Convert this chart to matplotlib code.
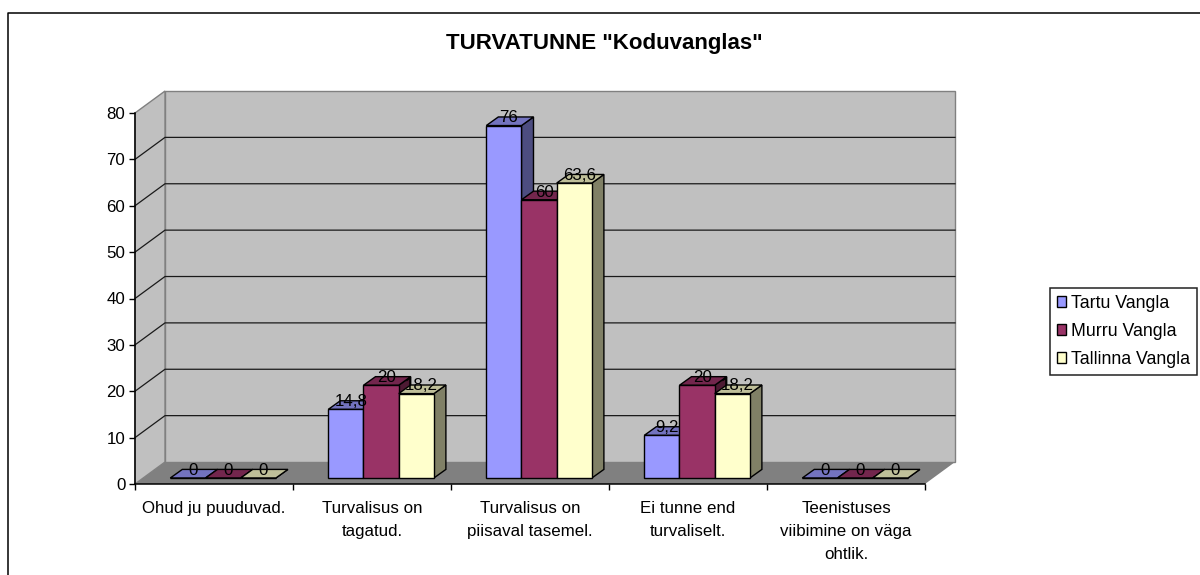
import matplotlib
matplotlib.use('Agg')
import matplotlib.pyplot as plt
from matplotlib.lines import Line2D
from matplotlib.patches import Patch

plt.rcParams['font.family'] = ['Liberation Sans', 'DejaVu Sans']

categories = ['Ohud ju puuduvad.', 'Turvalisus on\ntagatud.', 'Turvalisus on\npiisaval tasemel.',
              'Ei tunne end\nturvaliselt.', 'Teenistuses\nviibimine on väga\nohtlik.']
series_names = ['Tartu Vangla', 'Murru Vangla', 'Tallinna Vangla']
tartu = [0, 14.8, 76, 9.2, 0]
murru = [0, 20, 60, 20, 0]
tallinn = [0, 18.2, 63.6, 18.2, 0]
label_tartu = ['0', '14,8', '76', '9,2', '0']
label_murru = ['0', '20', '60', '20', '0']
label_tallinn = ['0', '18,2', '63,6', '18,2', '0']
y_ticks = [0, 10, 20, 30, 40, 50, 60, 70, 80]

front = ['#9999FF', '#993366', '#FFFFCC']
top = ['#7373BF', '#73264D', '#BFBF99']
side = ['#4D4D80', '#4D1A33', '#808066']

# depth of the fake 3d box, in data units
wall_dx = 30 / 158
wall_dy = 22 / 4.64
bar_w = 35.2 / 158
bar_start = 0.2234
bar_base = 6 / 4.64
bar_dx = 12 / 158
bar_dy = 8.6 / 4.64

fig = plt.figure(figsize=(12, 5.75), dpi=100)
ax = fig.add_axes([135 / 1200, 1 - 484 / 575, 790 / 1200, 371 / 575])
ax.set_xlim(0, 5)
ax.set_ylim(0, 80)
ax.patch.set_visible(False)

# walls and floor
ax.fill([0, wall_dx, 5 + wall_dx, 5], [0, wall_dy, wall_dy, 0], color='#808080', lw=0, clip_on=False, zorder=1)
ax.fill([wall_dx, 5 + wall_dx, 5 + wall_dx, wall_dx], [wall_dy, wall_dy, 80 + wall_dy, 80 + wall_dy],
        fc='#C0C0C0', ec='#808080', lw=1, clip_on=False, zorder=1)
ax.fill([0, wall_dx, wall_dx, 0], [0, wall_dy, 80 + wall_dy, 80], fc='#C0C0C0', ec='#808080', lw=1,
        clip_on=False, zorder=1)
for t in y_ticks[1:-1]:
    ax.plot([0, wall_dx, 5 + wall_dx], [t, t + wall_dy, t + wall_dy], color='#1a1a1a', lw=0.9,
            clip_on=False, zorder=2)

all_series = [tartu, murru, tallinn]
all_labels = [label_tartu, label_murru, label_tallinn]
for s, vals in enumerate(all_series):
    z = 3 + s
    for i, v in enumerate(vals):
        x0 = i + bar_start + s * bar_w
        x1 = x0 + bar_w
        y0 = v + bar_base
        ax.fill([x1, x1 + bar_dx, x1 + bar_dx, x1], [bar_base, bar_base + bar_dy, y0 + bar_dy, y0],
                fc=side[s], ec='black', lw=1, clip_on=False, zorder=z)
        ax.fill([x0, x1, x1 + bar_dx, x0 + bar_dx], [y0, y0, y0 + bar_dy, y0 + bar_dy],
                fc=top[s], ec='black', lw=1, clip_on=False, zorder=z)
    ax.bar([i + bar_start + s * bar_w for i in range(5)], vals, bar_w, bottom=bar_base, align='edge',
           color=front[s], edgecolor='black', lw=1, clip_on=False, zorder=z)

for s, vals in enumerate(all_series):
    for i, v in enumerate(vals):
        ax.text(i + bar_start + s * bar_w + bar_w / 2 + bar_dx / 2 - 0.006, v + bar_base + bar_dy - 0.2,
                all_labels[s][i], fontsize=12.2, ha='center', va='center', color='black', zorder=10)

for name in ['top', 'right']:
    ax.spines[name].set_visible(False)
for name in ['left', 'bottom']:
    ax.spines[name].set_linewidth(1.1)
    ax.spines[name].set_zorder(9)

ax.set_yticks(y_ticks)
ax.set_xticks(range(6))
ax.set_xticklabels([])
ax.set_xticks([i + 0.5 for i in range(5)], categories, minor=True, linespacing=1.66)
ax.tick_params(axis='x', which='minor', length=0, pad=12, labelsize=12.2)
ax.tick_params(axis='x', which='major', length=4, width=1.0)
ax.tick_params(axis='y', length=4, width=1.0, pad=3, labelsize=12.2)

fig.text(604 / 1200, 1 - 44 / 575, 'TURVATUNNE "Koduvanglas"', fontsize=16, fontweight='bold',
         ha='center', va='center')

handles = [Patch(fc=front[s], ec='black', lw=1) for s in range(3)]
leg = fig.legend(handles, series_names, loc='upper left', bbox_to_anchor=(1050 / 1200, 1 - 287.5 / 575),
                 borderaxespad=0, fontsize=12.8, fancybox=False, framealpha=1, edgecolor='#222222',
                 handlelength=0.5, handleheight=0.57, handletextpad=0.3, labelspacing=0.62, borderpad=0.4)
leg.get_frame().set_linewidth(1.1)

# outer chart border, only top and left are inside the picture
fig.add_artist(Line2D([7.5 / 1200, 7.5 / 1200, 1], [0, 1 - 13 / 575, 1 - 13 / 575], color='black', lw=1.1))

fig.savefig('out.png', dpi=100)
